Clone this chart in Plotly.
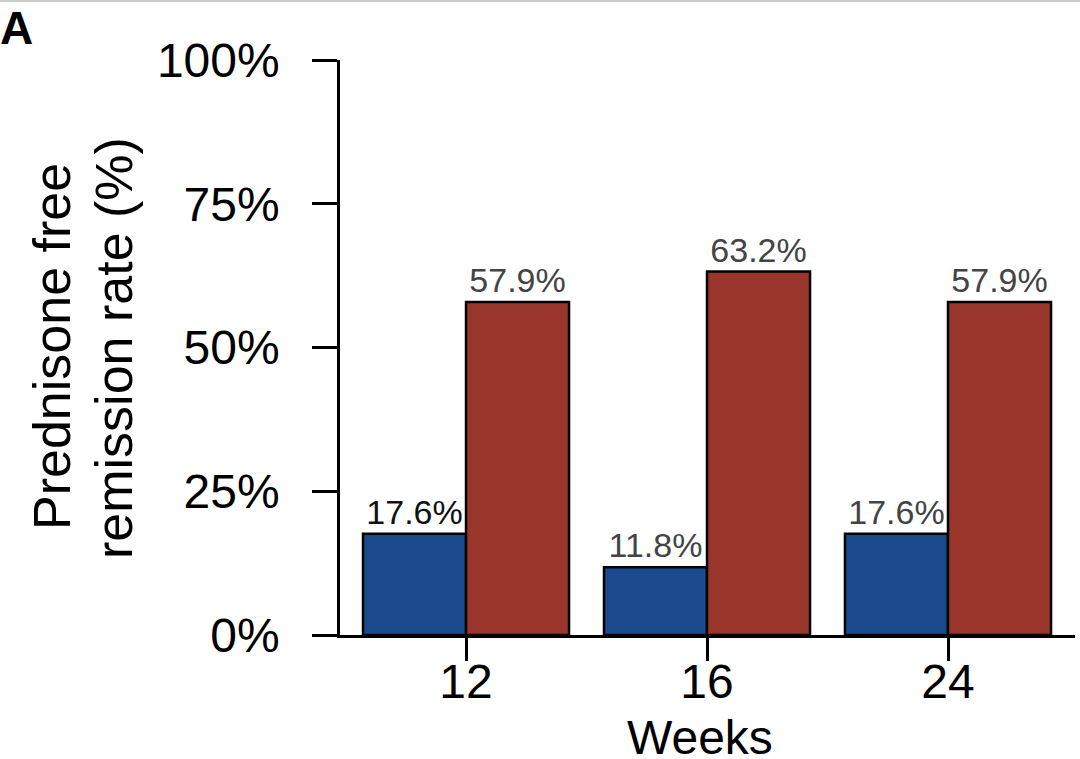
import plotly.graph_objects as go

weeks = ["12", "16", "24"]
control_vals = [17.6, 11.8, 17.6]
treat_vals = [57.9, 63.2, 57.9]
control_labels = ["17.6%", "11.8%", "17.6%"]
treat_labels = ["57.9%", "63.2%", "57.9%"]
y_tick_vals = [0, 25, 50, 75, 100]
y_tick_text = ["0%", "25%", "50%", "75%", "100%"]

FONT = "Liberation Sans, Arial, sans-serif"
BLUE = "#1b4b8e"
RED = "#9a352c"

fig = go.Figure()
fig.add_trace(go.Bar(
    x=weeks, y=control_vals, text=control_labels, textposition="outside",
    textfont=dict(size=34, family=FONT, color=["#111111", "#444444", "#444444"]),
    marker=dict(color=BLUE, line=dict(color="black", width=2.5)),
    cliponaxis=False, constraintext="none", showlegend=False,
))
fig.add_trace(go.Bar(
    x=weeks, y=treat_vals, text=treat_labels, textposition="outside",
    textfont=dict(size=34, family=FONT, color="#444444"),
    marker=dict(color=RED, line=dict(color="black", width=2.5)),
    cliponaxis=False, constraintext="none", showlegend=False,
))

W, H = 1080, 759
L, R, T, B = 340, 5, 60, 124
pw = W - L - R
ph = H - T - B

fig.update_layout(
    width=W, height=H,
    margin=dict(l=L, r=R, t=T, b=B, autoexpand=False),
    paper_bgcolor="white", plot_bgcolor="white",
    barmode="group", bargap=0.145, bargroupgap=0,
    font=dict(family=FONT, color="black"),
    title=dict(text="<b>A</b>", x=0.0, xref="container", xanchor="left",
               y=0.985, yref="container", yanchor="top", pad=dict(l=0, t=0),
               font=dict(size=46, family=FONT, color="black")),
    xaxis=dict(
        type="category", range=[-0.523, 2.527], automargin=False,
        showline=True, linecolor="black", linewidth=2.5,
        ticks="outside", ticklen=23, tickwidth=2.5, tickcolor="black",
        tickfont=dict(size=48, family=FONT, color="black"),
        ticklabelstandoff=-20,
        showgrid=False, zeroline=False,
    ),
    yaxis=dict(
        range=[0, 100], tickvals=y_tick_vals, ticktext=y_tick_text, automargin=False,
        showline=True, linecolor="black", linewidth=2.5,
        ticks="outside", ticklen=25, tickwidth=2.5, tickcolor="black",
        tickfont=dict(size=48, family=FONT, color="black"),
        ticklabelstandoff=23,
        showgrid=False, zeroline=False,
    ),
    annotations=[
        dict(text="Prednisone free", textangle=-90, xref="paper", yref="paper",
             x=(52 - L) / pw, y=(H - B - 347) / ph, xanchor="center", yanchor="middle",
             showarrow=False, font=dict(size=52, family=FONT, color="black")),
        dict(text="remission rate (%)", textangle=-90, xref="paper", yref="paper",
             x=(114 - L) / pw, y=(H - B - 348) / ph, xanchor="center", yanchor="middle",
             showarrow=False, font=dict(size=52, family=FONT, color="black")),
        dict(text="Weeks", xref="paper", yref="paper",
             x=(700 - L) / pw, y=(H - B - 737) / ph, xanchor="center", yanchor="middle",
             showarrow=False, font=dict(size=48, family=FONT, color="black")),
    ],
    shapes=[
        dict(type="line", xref="paper", yref="paper",
             x0=-L / pw, x1=(W - L) / pw, y0=1 + (T - 1) / ph, y1=1 + (T - 1) / ph,
             line=dict(color="#cccccc", width=2)),
    ],
)

fig.write_html("out.html", config={"displayModeBar": False},
               post_script="document.body.style.margin='0';document.body.style.overflow='hidden';")
